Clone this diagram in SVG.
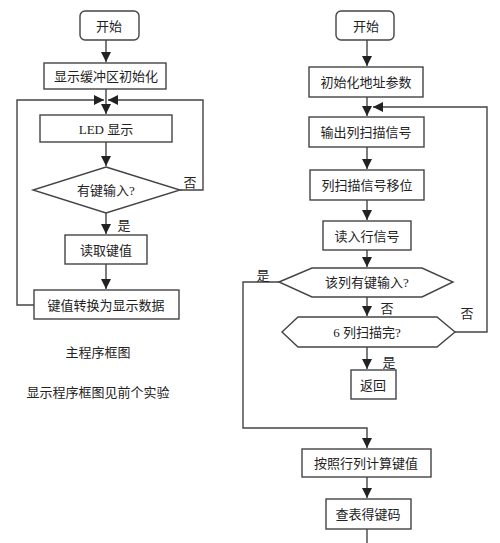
<svg xmlns="http://www.w3.org/2000/svg" width="500" height="543" viewBox="0 0 500 543">
<defs>
<marker id="ah" markerUnits="userSpaceOnUse" markerWidth="10" markerHeight="12" refX="10" refY="5" orient="auto">
<path d="M0,0 L10,5 L0,10 Z" fill="#222"/>
</marker>
<style>
.b{fill:#fff;stroke:#444;stroke-width:1.4}
.l{fill:none;stroke:#444;stroke-width:1.4}
.a{fill:none;stroke:#444;stroke-width:1.4;marker-end:url(#ah)}
text{font-family:"Liberation Serif","Noto Sans CJK SC",serif;font-size:13px;fill:#222;text-anchor:middle;dominant-baseline:central}
</style>
</defs>
<rect width="500" height="543" fill="#fff"/>
<g id="connectors">
<line class="a" x1="106" y1="40" x2="106" y2="62"/>
<line class="a" x1="106" y1="89" x2="106" y2="114"/>
<polyline class="a" points="34,305 17,305 17,100 104,100"/>
<polyline class="a" points="180,190 203,190 203,100 108,100"/>
<line class="a" x1="106" y1="142" x2="106" y2="166"/>
<line class="a" x1="106" y1="213" x2="106" y2="234"/>
<line class="a" x1="106" y1="264" x2="106" y2="289"/>
<line class="a" x1="367" y1="40" x2="367" y2="66"/>
<line class="a" x1="367" y1="97" x2="367" y2="116"/>
<polyline class="a" points="455,332 487,332 487,107 373,107"/>
<line class="a" x1="367" y1="147" x2="367" y2="169"/>
<line class="a" x1="367" y1="200" x2="367" y2="220"/>
<line class="a" x1="367" y1="250" x2="367" y2="267"/>
<line class="a" x1="367" y1="297" x2="367" y2="316"/>
<line class="a" x1="367" y1="347" x2="367" y2="369"/>
<polyline class="a" points="279,282 243,282 243,428 367,428 367,448"/>
<line class="a" x1="367" y1="477" x2="367" y2="498"/>
<line class="l" x1="367" y1="529" x2="367" y2="543"/>
</g>
<g id="l-start"><rect class="b" x="80" y="11" width="59" height="29" rx="5"/><text x="109" y="26">开始</text></g>
<g id="l-init"><rect class="b" x="44" y="63" width="122" height="26"/><text x="106" y="76">显示缓冲区初始化</text></g>
<g id="l-led"><rect class="b" x="40" y="115" width="132" height="27"/><text x="106" y="129">LED 显示</text></g>
<g id="l-dec"><polygon class="b" points="106,167 180,190 106,213 33,190"/><text x="106" y="190">有键输入?</text></g>
<g id="l-read"><rect class="b" x="65" y="235" width="82" height="29"/><text x="106" y="250">读取键值</text></g>
<g id="l-conv"><rect class="b" x="34" y="290" width="145" height="29"/><text x="106" y="305">键值转换为显示数据</text></g>
<text x="124" y="225">是</text>
<text x="190" y="182">否</text>
<text x="98" y="352">主程序框图</text>
<text x="98" y="392">显示程序框图见前个实验</text>
<g id="r-start"><rect class="b" x="336" y="11" width="58" height="29" rx="5"/><text x="366" y="26">开始</text></g>
<g id="r-init"><rect class="b" x="309" y="67" width="114" height="30"/><text x="366" y="82">初始化地址参数</text></g>
<g id="r-out"><rect class="b" x="309" y="117" width="115" height="30"/><text x="366" y="132">输出列扫描信号</text></g>
<g id="r-shift"><rect class="b" x="310" y="170" width="114" height="30"/><text x="367" y="185">列扫描信号移位</text></g>
<g id="r-readrow"><rect class="b" x="323" y="221" width="88" height="29"/><text x="367" y="236">读入行信号</text></g>
<g id="r-dec1"><polygon class="b" points="279,282 312,268 422,268 453,282 422,297 312,297"/><text x="367" y="282">该列有键输入?</text></g>
<g id="r-dec2"><polygon class="b" points="282,332 298,317 437,317 455,332 437,347 298,347"/><text x="367" y="332">6 列扫描完?</text></g>
<g id="r-ret"><rect class="b" x="351" y="370" width="45" height="29"/><text x="373" y="385">返回</text></g>
<g id="r-calc"><rect class="b" x="302" y="449" width="129" height="28"/><text x="366" y="463">按照行列计算键值</text></g>
<g id="r-table"><rect class="b" x="326" y="499" width="85" height="30"/><text x="368" y="514">查表得键码</text></g>
<text x="263" y="275">是</text>
<text x="387" y="308">否</text>
<text x="467" y="313">否</text>
<text x="389" y="362">是</text>
</svg>
